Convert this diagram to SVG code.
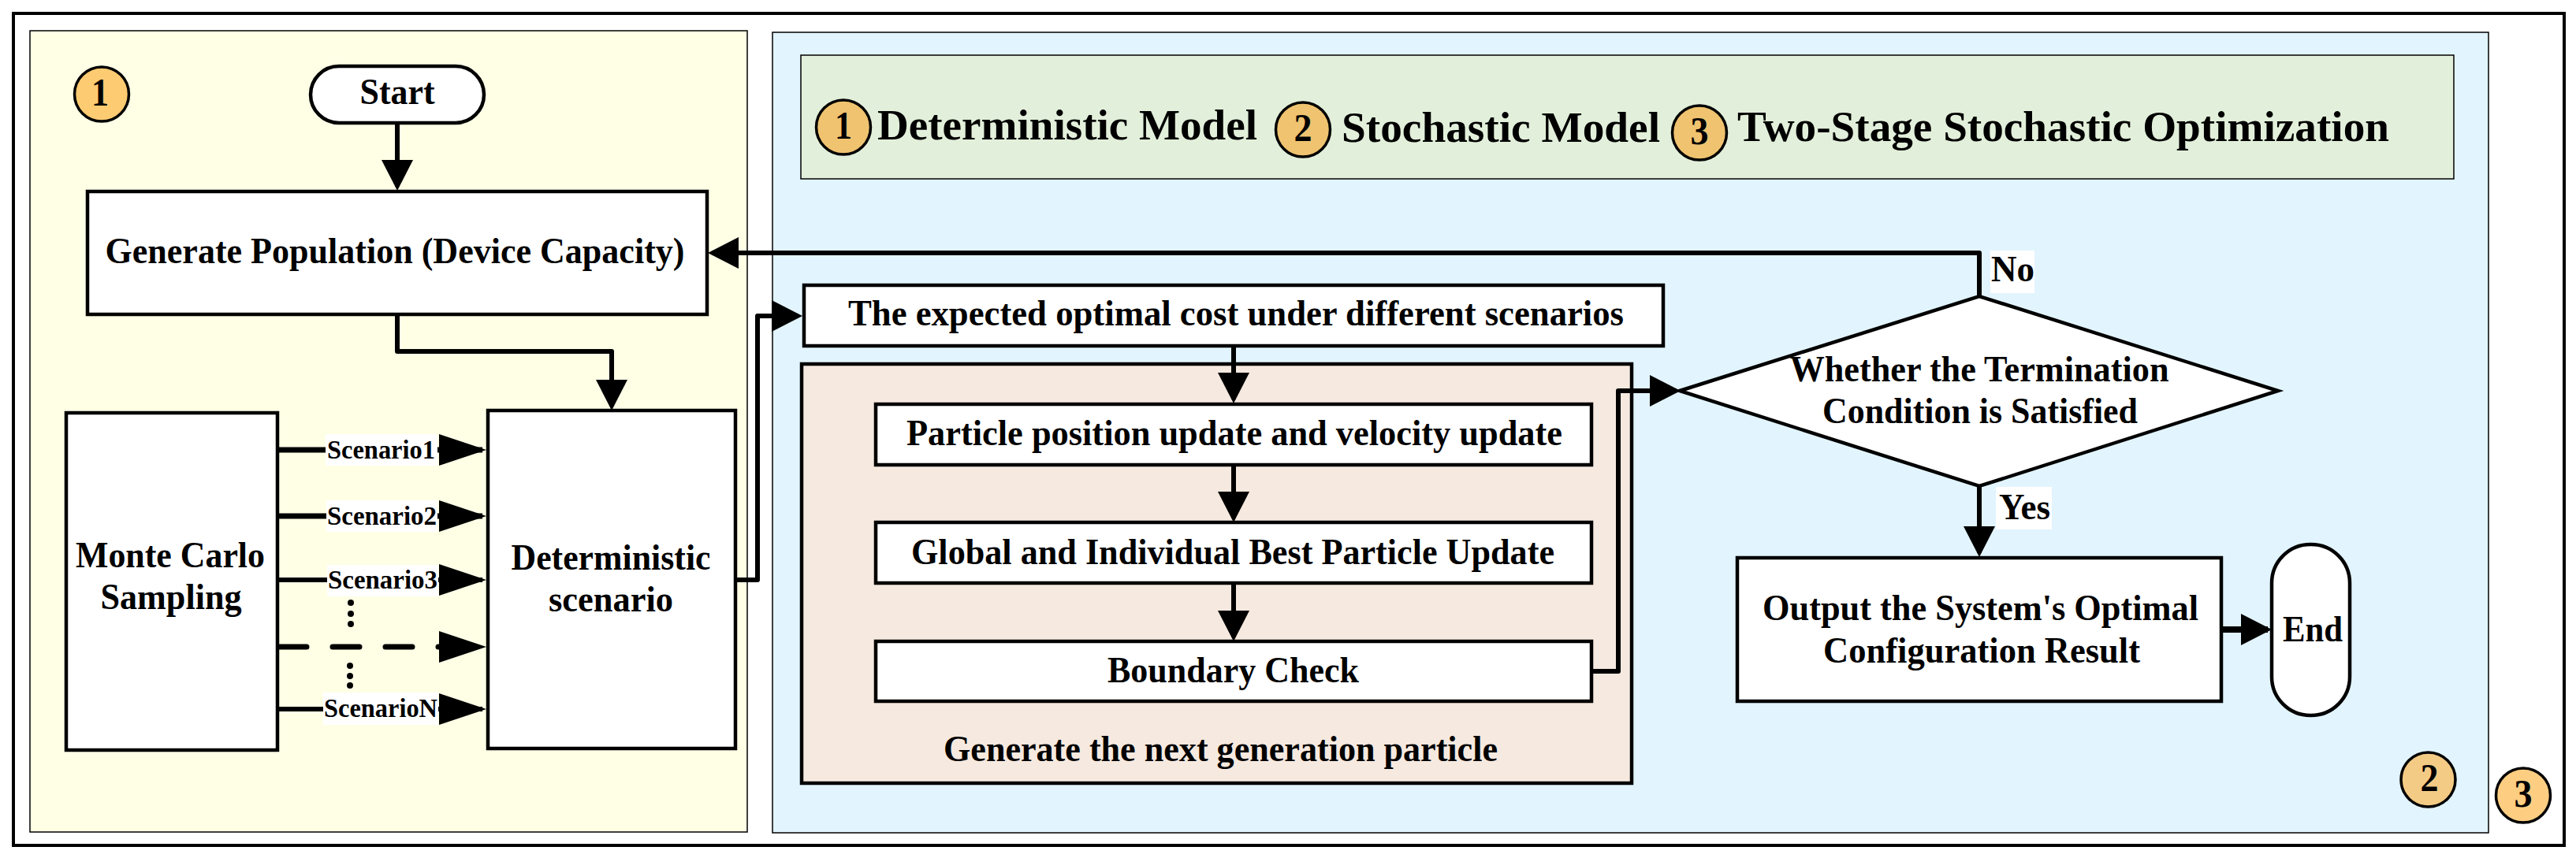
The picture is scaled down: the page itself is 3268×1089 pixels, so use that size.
<svg xmlns="http://www.w3.org/2000/svg" width="3268" height="1089" viewBox="0 0 3268 1089">
<style>
text{font-family:"Liberation Serif","Times New Roman",serif;font-weight:bold;fill:#000;text-anchor:middle}
.t{font-size:47px}
.h{font-size:54px}
.s{font-size:33px}
.d{font-size:50px}
.n{fill:#fff;stroke:#000;stroke-width:4.5}
.p{stroke:#000;stroke-width:1.5}
.b{stroke:#000;stroke-width:3.5}
.c{fill:none;stroke:#000;stroke-width:6;stroke-linejoin:round}
.w{fill:#fff}
</style>
<defs>
<marker id="a" markerUnits="userSpaceOnUse" markerWidth="40" markerHeight="42" viewBox="0 0 40 42" refX="34" refY="21" orient="auto"><path d="M0 1L39 21L0 41Z"/></marker>
<marker id="l" markerUnits="userSpaceOnUse" markerWidth="61" markerHeight="42" viewBox="0 0 61 42" refX="55" refY="21" orient="auto"><path d="M0 1L60 21L0 41Z"/></marker>
</defs>
<rect id="frame" x="17" y="17" width="3236" height="1056" fill="#fff" stroke="#000" stroke-width="4"/>
<rect id="panel-left" class="p" x="38" y="39" width="910" height="1017" fill="#ffffe6"/>
<rect id="panel-right" class="p" x="980" y="41" width="2177" height="1016" fill="#e2f4fe"/>
<rect id="panel-legend" class="p" x="1016" y="70" width="2097" height="157" fill="#e2efda"/>

<g id="badge-1"><circle class="b" cx="129" cy="119.5" r="34.5" fill="#fdcb71"/><text class="d" x="127" y="134" textLength="22" lengthAdjust="spacingAndGlyphs">1</text></g>
<g id="legend-1"><circle class="b" cx="1070" cy="161.5" r="34.5" fill="#efc36f"/><text class="d" x="1070" y="176" textLength="22" lengthAdjust="spacingAndGlyphs">1</text><text class="h" x="1354" y="177" textLength="482" lengthAdjust="spacingAndGlyphs">Deterministic Model</text></g>
<g id="legend-2"><circle class="b" cx="1653" cy="164.5" r="34.5" fill="#efc36f"/><text class="d" x="1653" y="179" textLength="23" lengthAdjust="spacingAndGlyphs">2</text><text class="h" x="1904" y="180" textLength="404" lengthAdjust="spacingAndGlyphs">Stochastic Model</text></g>
<g id="legend-3"><circle class="b" cx="2156" cy="168.5" r="34.5" fill="#efc36f"/><text class="d" x="2156" y="183" textLength="23" lengthAdjust="spacingAndGlyphs">3</text><text class="h" x="2617.5" y="179" textLength="827" lengthAdjust="spacingAndGlyphs">Two-Stage Stochastic Optimization</text></g>
<g id="badge-2"><circle class="b" cx="3080.5" cy="989.5" r="34.5" fill="#f4cb85"/><text class="d" x="3082" y="1004" textLength="23" lengthAdjust="spacingAndGlyphs">2</text></g>
<g id="badge-3"><circle class="b" cx="3201" cy="1009.5" r="34.5" fill="#fdcd82"/><text class="d" x="3201" y="1024" textLength="23" lengthAdjust="spacingAndGlyphs">3</text></g>

<g id="start"><rect class="n" x="394" y="84" width="220" height="72" rx="36"/><text class="t" x="504" y="132" textLength="95" lengthAdjust="spacingAndGlyphs">Start</text></g>
<g id="generate"><rect class="n" x="111" y="243" width="786" height="156"/><text class="t" x="501" y="334" textLength="735" lengthAdjust="spacingAndGlyphs">Generate Population (Device Capacity)</text></g>
<g id="monte-carlo"><rect class="n" x="84" y="524" width="268" height="428"/><text class="t" x="216" y="720" textLength="240" lengthAdjust="spacingAndGlyphs">Monte Carlo</text><text class="t" x="217" y="773" textLength="179" lengthAdjust="spacingAndGlyphs">Sampling</text></g>
<g id="deterministic"><rect class="n" x="619" y="521" width="314" height="429"/><text class="t" x="775" y="723" textLength="253" lengthAdjust="spacingAndGlyphs">Deterministic</text><text class="t" x="775" y="776" textLength="158" lengthAdjust="spacingAndGlyphs">scenario</text></g>
<g id="generation"><rect class="n" x="1017" y="462" width="1053" height="532" style="fill:#f6e9df"/><text class="t" x="1548.5" y="966" textLength="703" lengthAdjust="spacingAndGlyphs">Generate the next generation particle</text></g>
<g id="expected"><rect class="n" x="1020" y="362" width="1090" height="77"/><text class="t" x="1568" y="413" textLength="984" lengthAdjust="spacingAndGlyphs">The expected optimal cost under different scenarios</text></g>
<g id="particle"><rect class="n" x="1111" y="513" width="908" height="77"/><text class="t" x="1566" y="565" textLength="832" lengthAdjust="spacingAndGlyphs">Particle position update and velocity update</text></g>
<g id="best"><rect class="n" x="1111" y="663" width="908" height="77"/><text class="t" x="1564" y="716" textLength="816" lengthAdjust="spacingAndGlyphs">Global and Individual Best Particle Update</text></g>
<g id="boundary"><rect class="n" x="1111" y="814" width="908" height="76"/><text class="t" x="1564.5" y="866" textLength="319" lengthAdjust="spacingAndGlyphs">Boundary Check</text></g>
<g id="termination"><path class="n" d="M2131 496L2511 376L2890 496L2511 617Z"/><text class="t" x="2511" y="484" textLength="481" lengthAdjust="spacingAndGlyphs">Whether the Termination</text><text class="t" x="2512" y="537" textLength="400" lengthAdjust="spacingAndGlyphs">Condition is Satisfied</text></g>
<g id="output"><rect class="n" x="2204" y="708" width="614" height="182"/><text class="t" x="2512.5" y="787" textLength="553" lengthAdjust="spacingAndGlyphs">Output the System's Optimal</text><text class="t" x="2514" y="841" textLength="402" lengthAdjust="spacingAndGlyphs">Configuration Result</text></g>
<g id="end"><rect class="n" x="2882" y="691" width="99" height="217" rx="49"/><text class="t" x="2934" y="814" textLength="76" lengthAdjust="spacingAndGlyphs">End</text></g>

<g id="connectors">
<path class="c" marker-end="url(#a)" d="M504 156V237"/>
<path class="c" marker-end="url(#a)" d="M504 399V446H776V516"/>
<path class="c" marker-end="url(#a)" d="M933 736H961V401H1013"/>
<path class="c" marker-end="url(#a)" d="M1565 439V507"/>
<path class="c" marker-end="url(#a)" d="M1565 590V658"/>
<path class="c" marker-end="url(#a)" d="M1565 740V809"/>
<path class="c" marker-end="url(#a)" d="M2019 852H2053V496H2127"/>
<path class="c" marker-end="url(#a)" d="M2511 376V321H903"/>
<path class="c" marker-end="url(#a)" d="M2511 617V702"/>
<path class="c" style="stroke-width:8" marker-end="url(#a)" d="M2818 799H2877"/>
<path class="c" style="stroke-width:7" marker-end="url(#l)" d="M352 571H612"/>
<path class="c" style="stroke-width:7" marker-end="url(#l)" d="M352 655H612"/>
<path class="c" marker-end="url(#l)" d="M352 736H612"/>
<path class="c" style="stroke-width:7;stroke-linecap:round;stroke-dasharray:34 33" marker-end="url(#l)" d="M355 821H612"/>
<path class="c" marker-end="url(#l)" d="M352 900H612"/>
<g id="dots-upper"><circle cx="445" cy="765" r="4"/><circle cx="445" cy="779" r="4"/><circle cx="445" cy="792" r="4"/></g>
<g id="dots-lower"><circle cx="444" cy="845" r="4"/><circle cx="444" cy="858" r="4"/><circle cx="444" cy="870" r="4"/></g>
<g id="label-s1"><rect class="w" x="413" y="551" width="142" height="40"/><text class="s" x="483.5" y="582" textLength="137" lengthAdjust="spacingAndGlyphs">Scenario1</text></g>
<g id="label-s2"><rect class="w" x="414" y="635" width="141" height="40"/><text class="s" x="484.5" y="666" textLength="139" lengthAdjust="spacingAndGlyphs">Scenario2</text></g>
<g id="label-s3"><rect class="w" x="415" y="717" width="141" height="40"/><text class="s" x="485.5" y="747" textLength="139" lengthAdjust="spacingAndGlyphs">Scenario3</text></g>
<g id="label-sn"><rect class="w" x="410" y="879" width="146" height="41"/><text class="s" x="483" y="910" textLength="144" lengthAdjust="spacingAndGlyphs">ScenarioN</text></g>
<g id="label-no"><rect class="w" x="2525" y="318" width="56" height="54"/><text class="t" x="2553.5" y="357" textLength="55" lengthAdjust="spacingAndGlyphs">No</text></g>
<g id="label-yes"><rect class="w" x="2532" y="618" width="71" height="54"/><text class="t" x="2568.5" y="659" textLength="65" lengthAdjust="spacingAndGlyphs">Yes</text></g>
</g>
</svg>
